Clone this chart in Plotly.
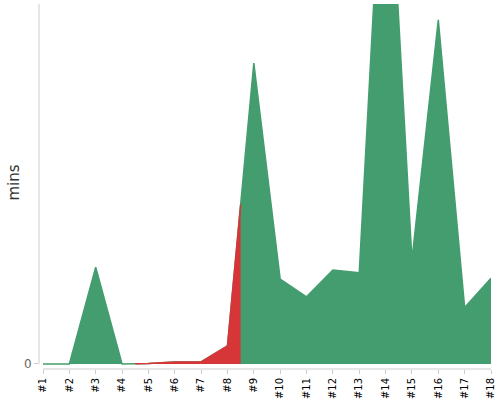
import plotly.graph_objects as go

categories = ["#1", "#2", "#3", "#4", "#5", "#6", "#7", "#8", "#9",
              "#10", "#11", "#12", "#13", "#14", "#15", "#16", "#17", "#18"]
minutes = [0, 0, 32.3, 0, 0.2, 0.7, 0.7, 6, 100.3, 28.3, 22.4, 31.3, 30.4, 194, 34.7, 114.7, 18.8, 28.6]
red_zone = (4.5, 8.5)  # x-range (category positions) drawn red
y_title = "mins"

GREEN = "#449d6e"
RED = "#d63638"

xs = list(range(1, len(categories) + 1))


def value_at(x):
    i = int(x) - 1
    f = x - int(x)
    if f == 0:
        return minutes[i]
    return minutes[i] + f * (minutes[i + 1] - minutes[i])


rx = [red_zone[0]] + [x for x in xs if red_zone[0] < x < red_zone[1]] + [red_zone[1]]
ry = [value_at(x) for x in rx]

fig = go.Figure()
fig.add_trace(go.Scatter(x=xs, y=minutes, mode="lines", fill="tozeroy",
                         line=dict(color=GREEN, width=1.5), fillcolor=GREEN,
                         hoverinfo="skip"))
fig.add_trace(go.Scatter(x=rx, y=ry, mode="lines", fill="tozeroy",
                         line=dict(color=RED, width=1.5), fillcolor=RED,
                         hoverinfo="skip"))

fig.update_layout(
    width=500, height=400,
    margin=dict(l=39, r=9, t=4, b=31, autoexpand=False),
    paper_bgcolor="white", plot_bgcolor="white",
    showlegend=False,
    font=dict(family="DejaVu Sans", color="#000"),
    xaxis=dict(range=[1 - 4 / 26.35, 18], tickvals=xs, ticktext=categories,
               tickangle=-90, ticks="outside", ticklen=4, tickcolor="#ccc",
               showgrid=False, zeroline=False, showline=False, automargin=False,
               tickfont=dict(size=10, color="#000")),
    yaxis=dict(range=[-1.67, 120], tickvals=[0], ticktext=["0"],
               ticks="outside", ticklen=4, tickcolor="#ccc",
               showgrid=False, zeroline=False, showline=False, automargin=False,
               tickfont=dict(size=12, color="#666")),
    annotations=[
        dict(text=y_title, xref="paper", yref="paper", x=0, y=0.5,
             xanchor="center", yanchor="middle", xshift=-26, yshift=4,
             textangle=-90, showarrow=False,
             font=dict(size=15, color="#333")),
    ],
    shapes=[
        dict(type="line", xref="x", yref="paper", x0=1, x1=18, y0=0, y1=0,
             line=dict(color="#ccc", width=1)),
        dict(type="line", xref="paper", yref="y", x0=0, x1=0, y0=0, y1=120,
             line=dict(color="#ccc", width=1)),
    ],
)

fig.write_html("out.html", config={"displayModeBar": False},
               post_script="document.body.style.margin='0';")
